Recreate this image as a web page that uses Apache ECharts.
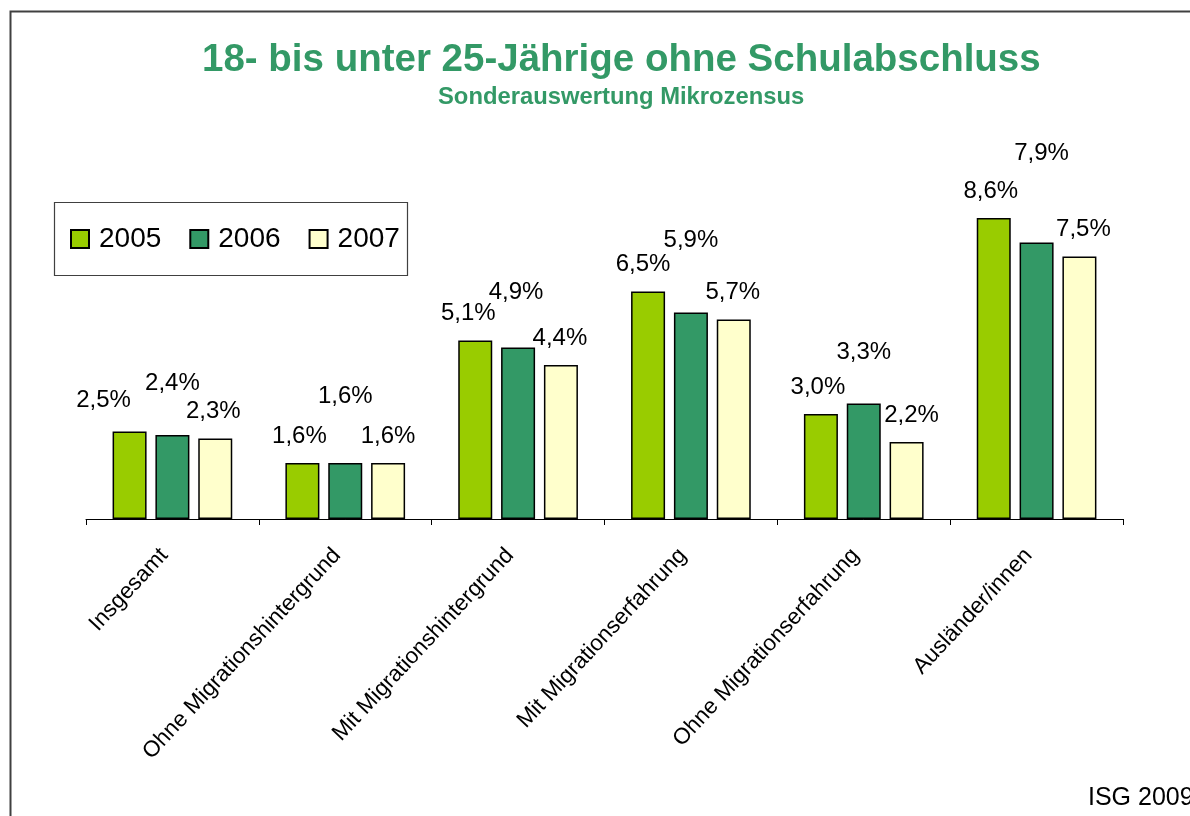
<!DOCTYPE html>
<html>
<head>
<meta charset="utf-8">
<script src="https://cdn.jsdelivr.net/npm/echarts@6/dist/echarts.min.js"></script>
<style>
  html, body { margin: 0; padding: 0; background: #fff; }
  #chart { width: 1190px; height: 816px; }
</style>
</head>
<body>
<div id="chart"></div>
<script>
const categories = ['Insgesamt', 'Ohne Migrationshintergrund', 'Mit Migrationshintergrund',
  'Mit Migrationserfahrung', 'Ohne Migrationserfahrung', 'Ausländer/innen']
const years = ['2005', '2006', '2007']
const values2005 = [2.5, 1.6, 5.1, 6.5, 3.0, 8.6]
const values2006 = [2.4, 1.6, 4.9, 5.9, 3.3, 7.9]
const values2007 = [2.3, 1.6, 4.4, 5.7, 2.2, 7.5]

// Excel moved some labels by hand, keep those nudges apart from the values
const labelNudge2005 = [[-26, -4], [-3, 0], [-7, 0], [-5, 0], [-3, 0], [-3, 0]]
const labelNudge2006 = [[0, -25], [0, -40], [-2, -28], [0, -45], [0, -24], [5, -62]]
const labelNudge2007 = [[-2, 0], [0, 0], [-1, 0], [-1, 0], [5, 0], [4, 0]]

const colors = ['#99cc00', '#339966', '#ffffcc']

const fmt = v => v.toFixed(1).replace('.', ',') + '%'

const makeSeries = (name, values, nudges, color) => ({
  name: name,
  type: 'bar',
  data: values.map((v, i) => ({value: v, label: {offset: nudges[i]}})),
  barWidth: 34,
  barGap: '26%',
  itemStyle: {
    color: color,
    borderColor: '#000',
    borderWidth: 1.5
  },
  label: {
    show: true,
    position: 'top',
    distance: 15,
    color: '#000',
    fontFamily: 'Liberation Sans, Arial, sans-serif',
    fontSize: 24,
    formatter: p => fmt(p.value)
  }
})

const chart = echarts.init(document.getElementById('chart'))
const option = {
  animation: false,
  backgroundColor: '#fff',
  title: [
    {
      text: '18- bis unter 25-Jährige ohne Schulabschluss',
      left: 202,
      top: 41,
      padding: 0,
      textStyle: {
        color: '#339966',
        fontFamily: 'Liberation Sans, Arial, sans-serif',
        fontWeight: 'bold',
        fontSize: 38.5
      }
    },
    {
      text: 'Sonderauswertung Mikrozensus',
      left: 438,
      top: 85,
      padding: 0,
      textStyle: {
        color: '#339966',
        fontFamily: 'Liberation Sans, Arial, sans-serif',
        fontWeight: 'bold',
        fontSize: 23.8
      }
    }
  ],
  legend: {
    data: years,
    left: 70,
    top: 225,
    padding: 0,
    itemWidth: 18,
    itemHeight: 18,
    itemGap: 28,
    icon: 'rect',
    textStyle: {
      color: '#000',
      fontFamily: 'Liberation Sans, Arial, sans-serif',
      fontSize: 28,
      padding: [0, 0, 0, 5]
    }
  },
  grid: {
    left: 86,
    right: 67,
    top: 169,
    bottom: 297
  },
  xAxis: {
    type: 'category',
    data: categories,
    axisLine: {lineStyle: {color: '#000', width: 1}},
    axisTick: {show: true, length: 6, lineStyle: {color: '#000'}},
    axisLabel: {
      rotate: 47,
      margin: 24,
      padding: [0, 12, 0, 0],
      interval: 0,
      color: '#000',
      fontFamily: 'Liberation Sans, Arial, sans-serif',
      fontSize: 22.5
    }
  },
  yAxis: {
    type: 'value',
    min: 0,
    max: 10,
    show: false,
    splitLine: {show: false}
  },
  graphic: [
    {
      type: 'rect',
      shape: {x: 10.5, y: 11.5, width: 1250, height: 900},
      style: {fill: 'none', stroke: '#404040', lineWidth: 2},
      silent: true
    },
    {
      type: 'rect',
      shape: {x: 54.5, y: 202.5, width: 353, height: 73},
      style: {fill: 'none', stroke: '#404040', lineWidth: 1.2},
      silent: true
    },
    {
      type: 'text',
      x: 1088,
      y: 786,
      style: {
        text: 'ISG 2009',
        fill: '#000',
        font: '25px Liberation Sans, Arial, sans-serif'
      }
    }
  ],
  series: [
    makeSeries(years[0], values2005, labelNudge2005, colors[0]),
    makeSeries(years[1], values2006, labelNudge2006, colors[1]),
    makeSeries(years[2], values2007, labelNudge2007, colors[2])
  ]
}
chart.setOption(option, true)
</script>
</body>
</html>
